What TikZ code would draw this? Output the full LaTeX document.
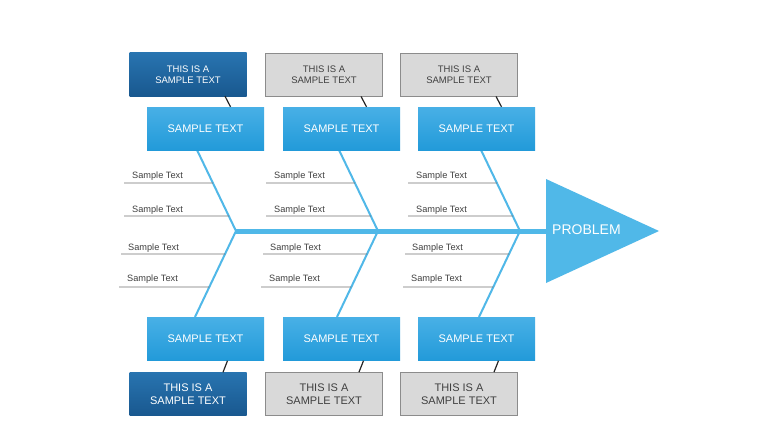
\documentclass[tikz,border=0pt]{standalone}
\usepackage{fontspec}
\setmainfont{Liberation Sans}
\usetikzlibrary{calc}
\definecolor{fishblue}{HTML}{50B8E8}
\definecolor{boxtop}{HTML}{48B0E6}
\definecolor{boxbot}{HTML}{229AD9}
\definecolor{darktop}{HTML}{2874B0}
\definecolor{darkbot}{HTML}{19588F}
\definecolor{notegrey}{HTML}{D9D9D9}
\definecolor{txtgrey}{HTML}{404040}

\begin{document}
\begin{tikzpicture}[x=1pt, y=-1pt,
    cause/.style={minimum width=117pt, minimum height=43pt, inner sep=0pt,
        top color=boxtop, bottom color=boxbot, text=white, font=\fontsize{11}{13}\selectfont},
    darknote/.style={minimum width=117pt, minimum height=43pt, inner sep=0pt,
        top color=darktop, bottom color=darkbot, text=white, align=center},
    greynote/.style={minimum width=117pt, minimum height=43pt, inner sep=0pt,
        fill=notegrey, draw=gray!90, line width=0.8pt, text=txtgrey, align=center},
    bone/.style={fishblue, line width=2pt},
    link/.style={black!85, line width=1.2pt},
    uline/.style={black!55, line width=0.9pt},
    lbl/.style={anchor=base west, inner sep=0pt, text=txtgrey, font=\fontsize{9.2}{11}\selectfont}]
    \fill[white] (0,0) rectangle (760,428);
    \useasboundingbox (0,0) rectangle (760,428);

    % bones, sub-causes
    \foreach \i/\jx in {1/236, 2/378, 3/520} {
        \coordinate (j\i) at (\jx,231);
        \coordinate (t\i) at (\jx-39,150);
        \coordinate (u\i) at (\jx-41,317);
        \draw[bone] (t\i) -- (j\i) -- (u\i);
        \foreach \r/\y/\a/\b/\f/\dx/\tx/\ty in {1/183/t/j/0.407/0/104/178, 2/216/t/j/0.815/0/104/212,
                3/254/j/u/0.267/3/108/250, 4/287/j/u/0.651/5/109/281} {
            \node[lbl] (s\i\r) at (\jx-\tx,\ty) {Sample Text};
            \draw[uline] (\jx-112-\dx,\y) -- ($(\a\i)!\f!(\b\i)$);
        }
    }

    % spine and head
    \coordinate (head) at (546,231);
    \draw[fishblue, line width=5pt] (j1) -- (head);
    \fill[fishblue] (546,179) -- (659,231) -- (546,283) -- cycle;
    \node[anchor=west, text=white, font=\fontsize{14}{16}\selectfont, inner sep=0pt] (prob) at (552,230) {PROBLEM};

    % cause boxes and notes
    \foreach \i/\bx/\nx/\nt in {1/205.5/188/darknote, 2/341.5/324/greynote, 3/476.5/459/greynote} {
        \node[cause] (ct\i) at (\bx,128.5) {SAMPLE TEXT};
        \node[cause] (cb\i) at (\bx,339) {SAMPLE TEXT};
        \node[\nt, font=\fontsize{9.5}{11}\selectfont] (nt\i) at (\nx,74.5) {THIS IS A\\SAMPLE TEXT};
        \node[\nt, font=\fontsize{11}{13}\selectfont] (nb\i) at (\nx,394) {THIS IS A\\SAMPLE TEXT};
        \draw[link] ([xshift=37pt]nt\i.south) -- ([xshift=25pt]ct\i.north);
        \draw[link] ([xshift=22pt]cb\i.south) -- ([xshift=35pt]nb\i.north);
    }
\end{tikzpicture}
\end{document}
